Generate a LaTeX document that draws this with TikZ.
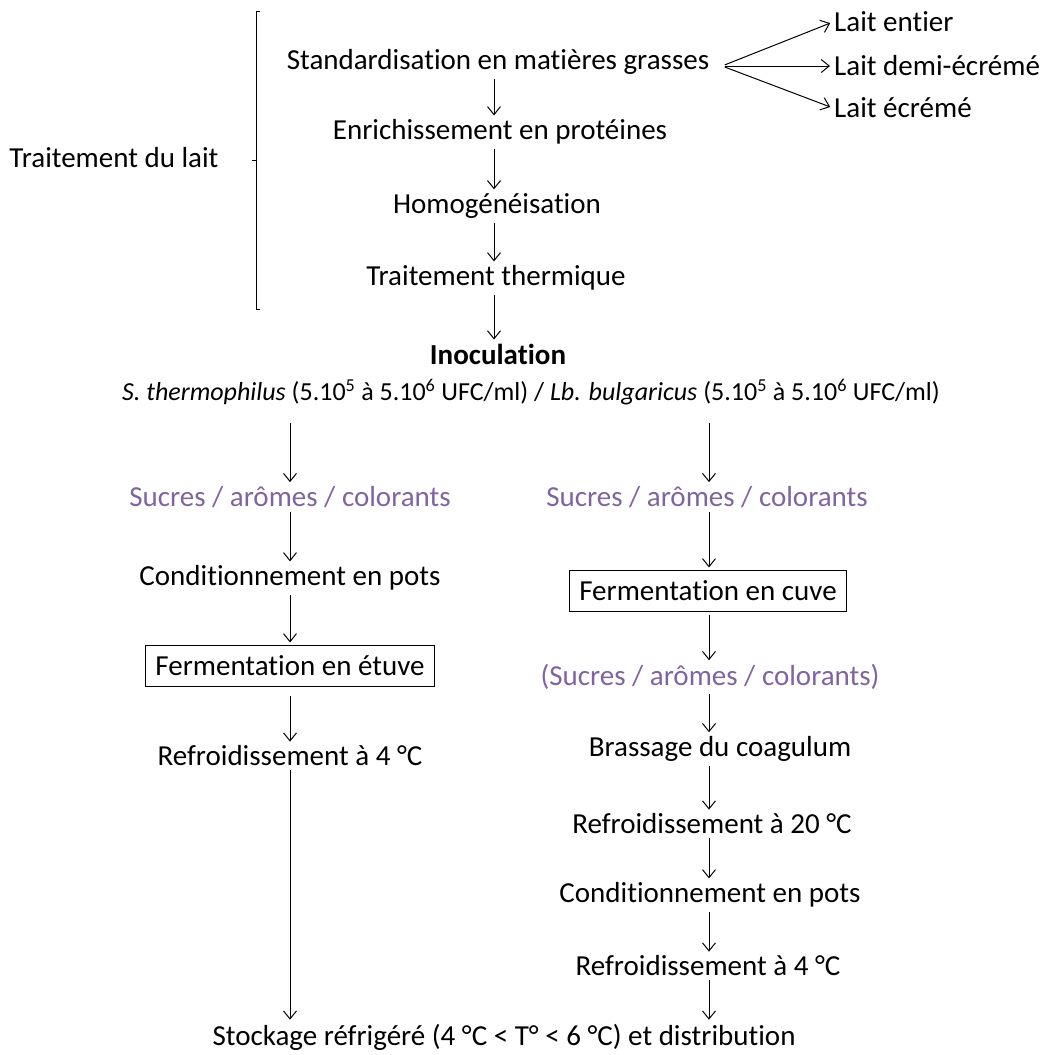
\documentclass[tikz,border=0pt]{standalone}
\usepackage{fontspec}
\setmainfont{Carlito}[Ligatures={NoCommon}]
\usepackage{tikz}
\usetikzlibrary{arrows.meta, positioning, calc}
\usepackage{xcolor}
\definecolor{addpurple}{HTML}{8064A2}

\begin{document}
\begin{tikzpicture}[
  x=1pt, y=-1pt,
  stepnode/.style={inner sep=1pt, font=\fontsize{29}{34}\selectfont},
  addnode/.style={stepnode, text=addpurple},
  fermbox/.style={stepnode, draw, line width=1pt, inner xsep=10pt, inner ysep=10pt},
  arrow/.style={-{Straight Barb[length=8pt, width=13pt]}, line width=1pt, shorten >=3pt, shorten <=3pt}
]
\useasboundingbox (0,0) rectangle (1040,1055);

% === Traitement du lait ===
\node[stepnode] (trait) at (114,158) {Traitement du lait};
\draw[line width=1pt] (260,11) -- (256,11) -- (256,309) -- (260,309);
\draw[line width=1pt] (256,160) -- (252,160);

\node[stepnode] (std)  at (498,62)  {Standardisation en matières grasses};
\node[stepnode] (enr)  at (500,132) {Enrichissement en protéines};
\node[stepnode] (hom)  at (497,206) {Homogénéisation};
\node[stepnode] (ther) at (496,278) {Traitement thermique};

\node[stepnode, anchor=west] (entier) at (833,22)  {Lait entier};
\node[stepnode, anchor=west] (demi)   at (833,66)  {Lait demi-écrémé};
\node[stepnode, anchor=west] (ecreme) at (833,108) {Lait écrémé};

\coordinate (fork) at (722,66);
\draw[arrow] (fork) -- (entier.west);
\draw[arrow] (fork) -- (demi.west);
\draw[arrow] (fork) -- (ecreme.west);

\draw[arrow] (std.south -| 494,0) -- (enr.north -| 494,0);
\draw[arrow] (enr.south -| 494,0) -- (hom.north -| 494,0);
\draw[arrow] (hom.south -| 494,0) -- (ther.north -| 494,0);

% === Inoculation ===
\node[stepnode, font=\fontsize{29}{34}\selectfont\bfseries] (inoc) at (498,354) {Inoculation};
\draw[arrow] (ther.south -| 494,0) -- (inoc.north -| 494,0);

\node[stepnode, font=\fontsize{26}{30}\selectfont] (souche) at (531,392)
  {\textit{S. thermophilus} (5.10\textsuperscript{5} à 5.10\textsuperscript{6} UFC/ml) / \textit{Lb. bulgaricus} (5.10\textsuperscript{5} à 5.10\textsuperscript{6} UFC/ml)};

% === Yaourt ferme (gauche) ===
\node[addnode] (lsuc)  at (290,497) {Sucres / arômes / colorants};
\node[stepnode] (lcond) at (290,578) {Conditionnement en pots};
\node[fermbox] (letuv) at (290,666) {Fermentation en étuve};
\node[stepnode] (lref)  at (290,756) {Refroidissement à 4 °C};

\draw[arrow] (souche.south -| lsuc) ++(0,14) -- (lsuc.north);
\draw[arrow] (lsuc.south) -- (lcond.north);
\draw[arrow] (lcond.south) -- (letuv.north);
\draw[arrow] (letuv.south) ++(0,6) -- (lref.north);

% === Yaourt brassé (droite) ===
\node[addnode] (rsuc)  at (707,497) {Sucres / arômes / colorants};
\node[fermbox] (rcuve) at (708,591) {Fermentation en cuve};
\node[addnode] (rsuc2) at (710,677) {(Sucres / arômes / colorants)};
\node[stepnode] (rbras) at (720,749) {Brassage du coagulum};
\node[stepnode] (rref1) at (712,824) {Refroidissement à 20 °C};
\node[stepnode] (rcond) at (710,895) {Conditionnement en pots};
\node[stepnode] (rref2) at (708,966) {Refroidissement à 4 °C};

\draw[arrow] (souche.south -| 709,0) ++(0,14) -- (rsuc.north -| 709,0);
\draw[arrow] (rsuc.south -| 709,0) -- (rcuve.north -| 709,0);
\draw[arrow] (rcuve.south -| 709,0) -- (rsuc2.north -| 709,0);
\draw[arrow] (rsuc2.south -| 709,0) -- (rbras.north -| 709,0);
\draw[arrow] (rbras.south -| 709,0) -- (rref1.north -| 709,0);
\draw[arrow] (rref1.south -| 709,0) -- (rcond.north -| 709,0);
\draw[arrow] (rcond.south -| 709,0) -- (rref2.north -| 709,0);

% === Stockage ===
\node[stepnode] (stock) at (504,1037) {Stockage réfrigéré (4 °C < T° < 6 °C) et distribution};
\draw[arrow] (lref.south) -- (lref.south |- stock.north);
\draw[arrow] (rref2.south -| 709,0) -- (stock.north -| 709,0);

\end{tikzpicture}
\end{document}
